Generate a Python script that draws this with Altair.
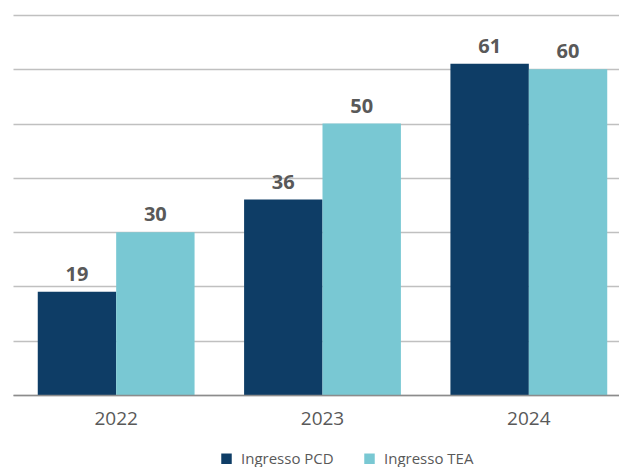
import altair as alt
import pandas as pd

years = ["2022", "2023", "2024"]
pcd = [19, 36, 61]
tea = [30, 50, 60]
series = ["Ingresso PCD", "Ingresso TEA"]
colors = ["#0e3d66", "#79c8d3"]
grid_values = [0, 10, 20, 30, 40, 50, 60, 70]

rows = []
for i, y in enumerate(years):
    rows.append({"year": y, "series": series[0], "value": pcd[i]})
    rows.append({"year": y, "series": series[1], "value": tea[i]})
df = pd.DataFrame(rows)

FONT = "Open Sans"
GRAY = "#595959"

x = alt.X(
    "year:N",
    title=None,
    scale=alt.Scale(range=[4, 623], paddingInner=0.24, paddingOuter=0.12),
    axis=alt.Axis(
        labelAngle=0, labelFontSize=19, labelColor=GRAY, labelFont=FONT,
        labelPadding=14, ticks=False, domainColor="#8c8c8c", domainWidth=1.5,
        zindex=1,
    ),
)
xoff = alt.XOffset("series:N", scale=alt.Scale(paddingInner=0, paddingOuter=0))
y = alt.Y(
    "value:Q",
    title=None,
    scale=alt.Scale(domain=[0, 70], nice=False),
    axis=alt.Axis(
        values=grid_values, labels=False, ticks=False, domain=False,
        gridColor="#c0c0c0", gridWidth=1.3,
    ),
)

bars = alt.Chart(df).mark_bar().encode(
    x=x, xOffset=xoff, y=y,
    color=alt.Color(
        "series:N",
        scale=alt.Scale(domain=series, range=colors),
        legend=alt.Legend(
            title=None, orient="none", legendX=210, legendY=436,
            direction="horizontal", symbolType="square", symbolSize=110,
            symbolStrokeWidth=0, labelFontSize=15, labelFont=FONT,
            labelColor=GRAY, columnPadding=28, labelOffset=7,
        ),
    ),
)

labels = alt.Chart(df).mark_text(
    baseline="alphabetic", dy=-11, fontSize=20, fontWeight="bold",
    font=FONT, color=GRAY,
).encode(x=x, xOffset=xoff, y=y, text=alt.Text("value:Q"))

chart = (
    alt.layer(bars, labels)
    .properties(
        width=610, height=380,
        padding={"left": 1, "top": 7, "right": 0, "bottom": 72},
        autosize=alt.AutoSizeParams(type="none"),
    )
    .configure_view(stroke=None)
)

chart.save("out.html", embed_options={"renderer": "svg", "actions": False})
